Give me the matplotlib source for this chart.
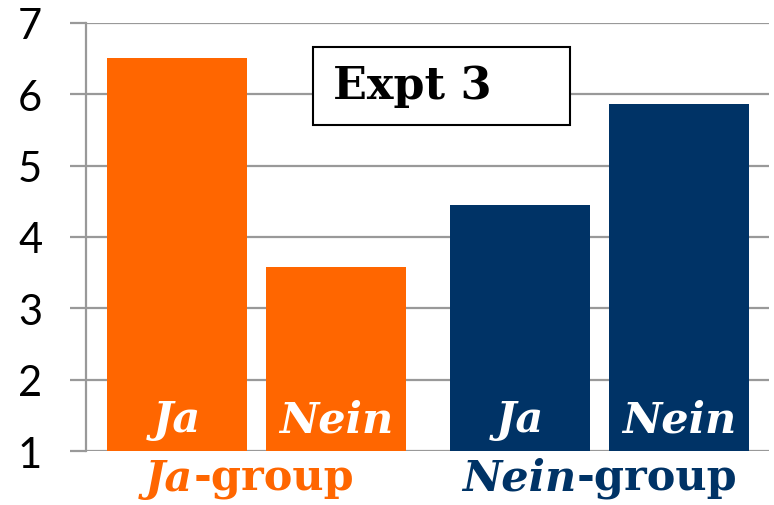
import matplotlib.pyplot as plt
from matplotlib.patches import Rectangle
from matplotlib.offsetbox import TextArea, HPacker, AnnotationBbox

groups = ["Ja", "Nein"]
conditions = ["Ja", "Nein"]
values = {"Ja": [6.51, 3.58], "Nein": [4.45, 5.86]}
colors = {"Ja": "#FF6600", "Nein": "#003366"}
yticks = [1, 2, 3, 4, 5, 6, 7]
title = "Expt 3"

serif = "DejaVu Serif"
sans = "Lato"

fig = plt.figure(figsize=(7.74, 5.06), dpi=100)
ax = fig.add_axes([0.1111, 0.1067, 0.8824, 0.8459])

width = 0.408
offset = 0.232
for gi, g in enumerate(groups):
    for ci, c in enumerate(conditions):
        x = gi + (ci - 0.5) * 2 * offset
        v = values[g][ci]
        ax.bar(x, v - 1, width, bottom=1, color=colors[g], zorder=3)
        ax.text(x, 1.28, c, color="white", ha="center", va="baseline",
                fontsize=31, fontweight="bold", fontstyle="italic",
                family=serif, zorder=4)

    # group label: italic name + upright "-group"
    part1 = TextArea(g, textprops=dict(color=colors[g], fontsize=31,
                                       fontweight="bold", fontstyle="italic",
                                       family=serif))
    part2 = TextArea("-group", textprops=dict(color=colors[g], fontsize=31,
                                              fontweight="bold", family=serif))
    box = HPacker(children=[part1, part2], sep=0, pad=0, align="baseline")
    ab = AnnotationBbox(box, (gi - 0.02 * (1 - gi), 0.053),
                        xycoords=("data", "figure fraction"),
                        frameon=False, box_alignment=(0.5, 0.5),
                        annotation_clip=False)
    ax.add_artist(ab)

ax.set_xlim(-0.497, 1.494)
ax.set_ylim(1, 7)
ax.set_yticks(yticks)
ax.set_xticks([])
ax.yaxis.grid(True, color="#999999", linewidth=1.6, zorder=0)
ax.set_axisbelow(True)
for s in ["top", "right", "bottom"]:
    ax.spines[s].set_visible(False)
ax.spines["left"].set_color("#999999")
ax.spines["left"].set_linewidth(1.6)
ax.tick_params(axis="y", length=11.5, width=1.6, color="#999999",
               pad=20, labelsize=30)
for lab in ax.get_yticklabels():
    lab.set_family(sans)

# title box
ax.add_patch(Rectangle((0.332, 0.762), 0.377, 0.182, transform=ax.transAxes,
                       facecolor="white", edgecolor="black", linewidth=1.5,
                       zorder=5))
ax.text(0.361, 0.853, title, transform=ax.transAxes, ha="left", va="center",
        fontsize=32, fontweight="bold", family=serif, zorder=6)

fig.savefig("out.png", dpi=100)
